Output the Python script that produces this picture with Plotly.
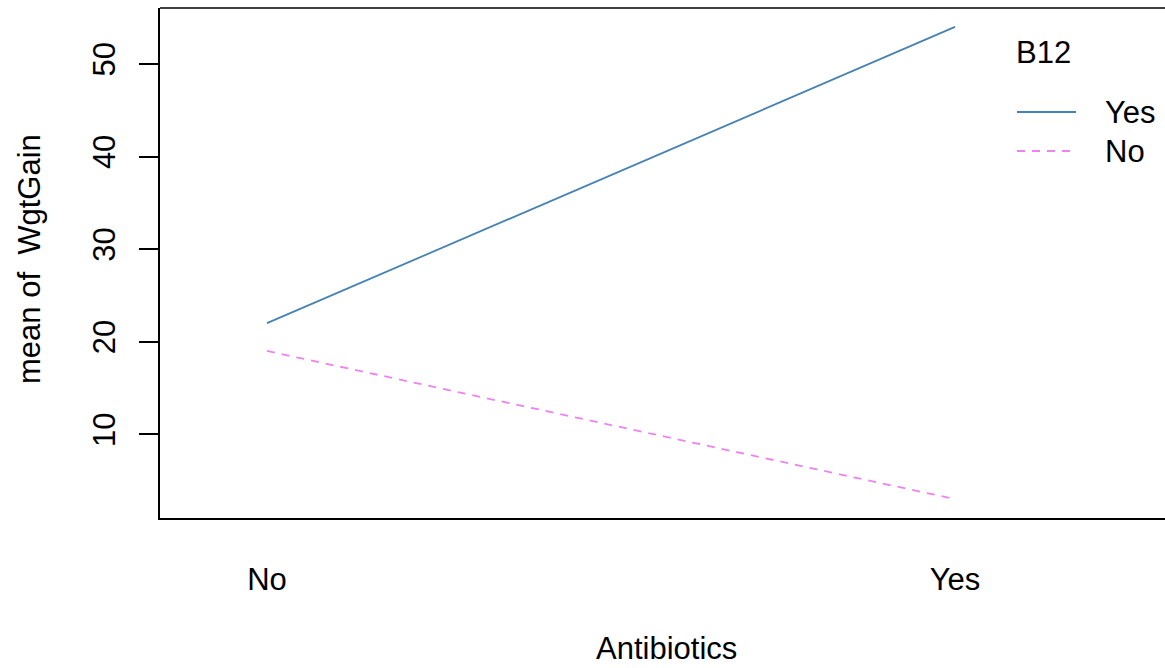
import plotly.graph_objects as go

# ---- data ----
antibiotics = ["No", "Yes"]
b12_levels = ["Yes", "No"]
mean_gain_b12_yes = [22, 54]
mean_gain_b12_no = [19, 3]
y_ticks = [10, 20, 30, 40, 50]

series = [mean_gain_b12_yes, mean_gain_b12_no]
colors = ["#4682B4", "#EE82EE"]
dashes = ["solid", "8px,7px"]

FONT = "Liberation Sans, Arial, sans-serif"
FS = 31

W, H = 1165, 668
L, R, T, B = 160, 0, 8, 150
pw = W - L - R
ph = H - T - B

fig = go.Figure()
for name, vals, col, dsh in zip(b12_levels, series, colors, dashes):
    fig.add_trace(go.Scatter(
        x=antibiotics, y=vals, mode="lines", name=name,
        line=dict(color=col, width=1.8, dash=dsh), showlegend=False,
    ))

# x: category positions 0 and 1 at px 267 and 955
x0px, x1px = 267, 955
unit = x1px - x0px
xr = [0 - (x0px - L) / unit, 0 + (L + pw - x0px) / unit]

fig.update_layout(
    width=W, height=H,
    margin=dict(l=L, r=R, t=T, b=B, pad=0),
    paper_bgcolor="white", plot_bgcolor="white",
    font=dict(family=FONT, size=FS, color="black"),
    xaxis=dict(
        type="category", range=xr, showgrid=False, zeroline=False,
        showline=True, linecolor="black", linewidth=1.6,
        ticks="", ticklabelstandoff=33,
        tickfont=dict(size=FS),
    ),
    yaxis=dict(
        range=[0.96, 56.04], tickvals=y_ticks, showgrid=False, zeroline=False,
        showline=True, linecolor="black", linewidth=1.6,
        ticks="outside", ticklen=19, tickwidth=1.6, tickcolor="black",
        tickangle=-90, ticklabelstandoff=12, tickfont=dict(size=FS),
    ),
)

# top border of box
fig.add_shape(type="line", xref="paper", yref="paper", x0=0, x1=1, y0=1, y1=1,
              line=dict(color="black", width=1.6))

# axis titles
fig.add_annotation(text="Antibiotics", xref="paper", yref="paper",
                   x=(666 - L) / pw, y=-(648 - (T + ph)) / ph,
                   xanchor="center", yanchor="middle", showarrow=False,
                   font=dict(size=FS))
fig.add_annotation(text="mean of \u00a0WgtGain", xref="paper", yref="paper",
                   x=(29 - L) / pw, y=(T + ph - 259) / ph, textangle=-90,
                   xanchor="center", yanchor="middle", showarrow=False,
                   font=dict(size=FS))

# legend (drawn manually, R-style)
def px_x(p):
    return (p - L) / pw

def px_y(p):
    return (T + ph - p) / ph

fig.add_annotation(text="B12", xref="paper", yref="paper",
                   x=px_x(1014), y=px_y(52), xanchor="left", yanchor="middle",
                   showarrow=False, font=dict(size=FS))
leg_y = [112, 151]
for name, col, dsh, ly in zip(b12_levels, colors, dashes, leg_y):
    fig.add_shape(type="line", xref="paper", yref="paper",
                  x0=px_x(1017), x1=px_x(1076), y0=px_y(ly), y1=px_y(ly),
                  line=dict(color=col, width=1.8, dash=dsh))
    fig.add_annotation(text=name, xref="paper", yref="paper",
                       x=px_x(1103), y=px_y(ly), xanchor="left", yanchor="middle",
                       showarrow=False, font=dict(size=FS))

fig.write_html(
    "out.html",
    config={"displayModeBar": False},
    post_script="document.body.style.margin='0';document.body.style.overflow='hidden';",
)
